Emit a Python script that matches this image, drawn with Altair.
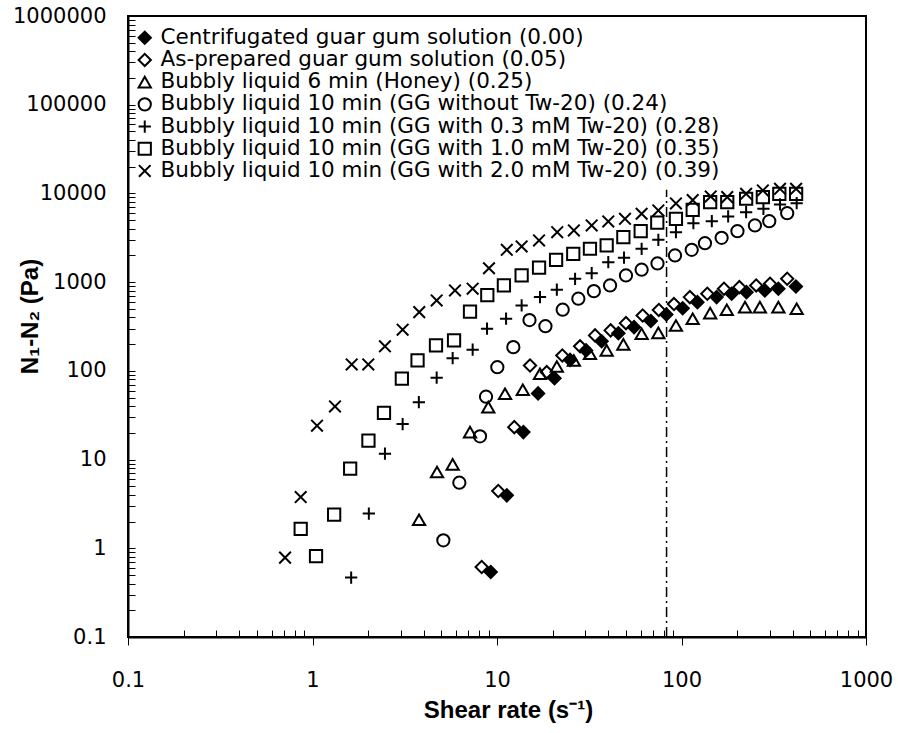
import altair as alt
import pandas as pd

series_names = [
    "Centrifugated guar gum solution (0.00)",
    "As-prepared guar gum solution (0.05)",
    "Bubbly liquid 6 min (Honey) (0.25)",
    "Bubbly liquid 10 min (GG without Tw-20) (0.24)",
    "Bubbly liquid 10 min (GG with 0.3 mM Tw-20) (0.28)",
    "Bubbly liquid 10 min (GG with 1.0 mM Tw-20) (0.35)",
    "Bubbly liquid 10 min (GG with 2.0 mM Tw-20) (0.39)",
]

centrifugated_x = [9.25, 11.3, 13.9, 16.7, 20.5, 24.9, 30.4, 36.9, 45.5, 55.3, 68.2, 82.8, 101.5, 122, 155, 187, 225, 283, 335, 417]
centrifugated_y = [0.54, 3.95, 20.4, 55.7, 82.6, 133, 170, 216, 266, 311, 365, 432, 508, 595, 678, 740, 771, 806, 843, 894]

asprepared_x = [8.26, 10.16, 12.41, 15.1, 18.6, 22.6, 28.2, 34.0, 41.3, 50.0, 61.6, 75.4, 91.0, 111, 138, 170, 206, 254, 302, 374]
asprepared_y = [0.615, 4.42, 23.2, 115, 96.8, 149, 189, 251, 286, 345, 421, 485, 566, 678, 740, 843, 878, 918, 959, 1092]

honey_x = [3.78, 4.73, 5.75, 7.14, 8.97, 11.05, 13.8, 17.1, 21.1, 26.1, 31.9, 39.3, 48.4, 60.8, 74.9, 93.3, 115, 143, 176, 221, 266, 335, 421]
honey_y = [2.10, 7.23, 8.83, 20.4, 39.0, 55.3, 61.3, 92.9, 112, 131, 156, 170, 199, 262, 268, 325, 387, 448, 489, 523, 523, 523, 501]

without_x = [5.12, 6.25, 8.09, 8.72, 10.04, 12.26, 15.0, 18.3, 22.7, 27.6, 33.5, 41.0, 50.0, 60.8, 74.1, 92.2, 113.6, 134, 165, 201, 250, 299, 374]
without_y = [1.23, 5.49, 18.3, 51.1, 110, 185, 374, 319, 489, 650, 792, 918, 1190, 1380, 1625, 2000, 2317, 2750, 3163, 3755, 4355, 4866, 5988]

tw03_x = [1.62, 2.02, 2.47, 3.08, 3.77, 4.71, 5.75, 7.38, 8.83, 11.2, 13.6, 17.1, 21.1, 26.5, 32.6, 40.1, 48.8, 60.8, 74.9, 93.3, 116, 146, 179, 224, 278, 342, 421]
tw03_y = [0.467, 2.46, 11.65, 25.1, 44.4, 83.7, 139, 173, 299, 387, 546, 678, 821, 1092, 1263, 1680, 1884, 2379, 3003, 3658, 4624, 4866, 5500, 6150, 6714, 7507, 7763]

tw10_x = [0.863, 1.045, 1.31, 1.60, 2.01, 2.44, 3.05, 3.71, 4.67, 5.85, 7.14, 8.86, 10.9, 13.6, 16.9, 20.9, 25.9, 31.9, 39.3, 48.4, 60.1, 73.9, 93.3, 115, 143, 177, 224, 276, 339, 418]
tw10_y = [1.66, 0.818, 2.39, 7.9, 16.3, 33.6, 81.5, 131, 194, 220, 465, 714, 918, 1190, 1453, 1788, 2089, 2379, 2591, 3214, 3755, 4680, 5180, 6543, 7966, 7966, 8710, 9070, 9910, 9910]

tw20_x = [0.71, 0.863, 1.058, 1.324, 1.631, 2.006, 2.47, 3.08, 3.79, 4.71, 5.92, 7.38, 9.05, 11.3, 13.6, 16.9, 21.2, 26.1, 32.6, 40.1, 49.4, 60.8, 74.9, 93.3, 115, 144, 177, 224, 276, 342, 418]
tw20_y = [0.785, 3.78, 24.1, 39.7, 118, 118, 189, 291, 459, 622, 806, 843, 1434, 2317, 2525, 2951, 3658, 3823, 4355, 4830, 5180, 5900, 6430, 7710, 8400, 9240, 9080, 9910, 10800, 11280, 11280]

limit_rate = 83
limit_low = 0.1
limit_high = 11000

x_major = [0.1, 1, 10, 100, 1000]
y_major = [0.1, 1, 10, 100, 1000, 10000, 100000, 1000000]

shape_range = ["diamond", "diamond", "triangle-up", "circle",
               "M-1,0H1M0,-1V1", "square", "M-0.95,-0.95L0.95,0.95M-0.95,0.95L0.95,-0.95"]
fill_range = ["black", "transparent", "transparent", "transparent",
              "transparent", "transparent", "transparent"]
stroke_range = ["black"] * 7
size_range = [150, 150, 150, 100, 170, 100, 150]

series_x = [centrifugated_x, asprepared_x, honey_x, without_x, tw03_x, tw10_x, tw20_x]
series_y = [centrifugated_y, asprepared_y, honey_y, without_y, tw03_y, tw10_y, tw20_y]

rows = []
for name, xs, ys in reversed(list(zip(series_names, series_x, series_y))):
    for xv, yv in zip(xs, ys):
        rows.append({"series": name, "rate": xv, "n": yv})
df = pd.DataFrame(rows)

limit_df = pd.DataFrame({"rate": [limit_rate], "lo": [limit_low], "hi": [limit_high]})

x_minor = [k * 10.0 ** e for e in (-1, 0, 1, 2) for k in range(2, 10)]
y_inner = [k * 10.0 ** e for e in range(-1, 6) for k in range(1, 10)] + [1000000]

FONT = "DejaVu Sans"
TFONT = "Liberation Sans"

x_scale = alt.Scale(type="log", domain=[0.1, 1000], nice=False)
y_scale = alt.Scale(type="log", domain=[0.1, 1000000], nice=False)

legend = alt.Legend(
    title=None, orient="none", legendX=6, legendY=11, padding=0,
    labelFont=FONT, labelFontSize=21.5, labelColor="black", labelOffset=5,
    symbolStrokeColor="black", symbolStrokeWidth=2, rowPadding=-0.8,
    labelLimit=800,
)

x_major_axis = alt.Axis(
    values=x_major, format="~f", grid=False, orient="bottom",
    domainColor="black", domainWidth=2, tickColor="black", tickWidth=1, tickSize=8,
    labelFont=FONT, labelFontSize=21, labelColor="black", labelPadding=24,
    labelFlush=False, labelOverlap=False,
    title="Shear rate (s⁻¹)", titleFont=TFONT, titleFontSize=24, titleFontWeight="bold",
    titleColor="black", titlePadding=8, titleX=380,
)
y_major_axis = alt.Axis(
    values=y_major, format="~f", grid=False, orient="left",
    domainColor="black", domainWidth=2, ticks=False,
    labelFont=FONT, labelFontSize=21, labelColor="black", labelPadding=22,
    labelFlush=False, labelOverlap=False,
    title="N₁-N₂  (Pa)", titleFont=TFONT, titleFontSize=24, titleFontWeight="bold",
    titleColor="black", titleX=-98, titleY=300, titleBaseline="middle", titleAngle=270,
)
x_minor_axis = alt.Axis(
    values=x_minor, labels=False, domain=False, grid=False, orient="bottom",
    tickColor="black", tickWidth=1, tickSize=7, offset=-7, title=None,
)
y_minor_axis = alt.Axis(
    values=y_inner, labels=False, domain=False, grid=False, orient="left",
    tickColor="black", tickWidth=1, tickSize=7, offset=-7, title=None,
)

points = alt.Chart(df).mark_point(
    filled=False, strokeWidth=2, opacity=1
).encode(
    x=alt.X("rate:Q", scale=x_scale, axis=x_major_axis),
    y=alt.Y("n:Q", scale=y_scale, axis=y_major_axis),
    shape=alt.Shape("series:N", scale=alt.Scale(domain=series_names, range=shape_range), legend=legend),
    fill=alt.Fill("series:N", scale=alt.Scale(domain=series_names, range=fill_range), legend=legend),
    stroke=alt.Stroke("series:N", scale=alt.Scale(domain=series_names, range=stroke_range), legend=legend),
    size=alt.Size("series:N", scale=alt.Scale(domain=series_names, range=size_range), legend=legend),
)

rule = alt.Chart(limit_df).mark_rule(
    color="black", strokeWidth=1.5, strokeDash=[10, 4, 2, 4]
).encode(
    x=alt.X("rate:Q", scale=x_scale, axis=x_minor_axis),
    y=alt.Y("lo:Q", scale=y_scale, axis=y_minor_axis),
    y2="hi:Q",
)

chart = alt.layer(points, rule).resolve_scale(
    x="independent", y="independent"
).properties(
    width=738, height=621,
    padding={"left": 128, "top": 16, "right": 32, "bottom": 96},
    autosize="none", background="white",
).configure_view(stroke="black", strokeWidth=2)

chart.save("out.html", embed_options={"renderer": "svg", "actions": False})
